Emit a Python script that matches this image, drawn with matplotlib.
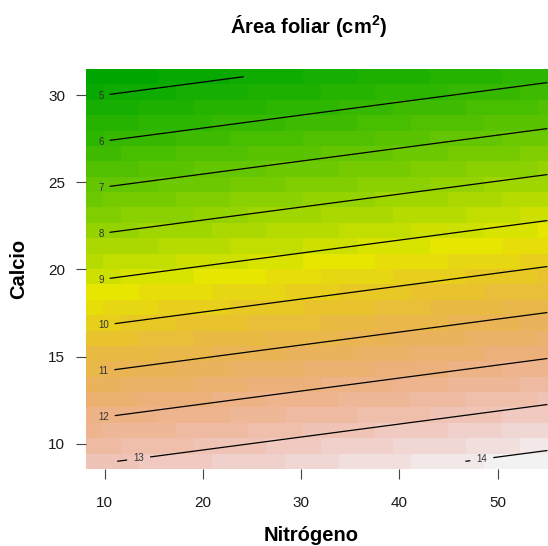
import colorsys

import numpy as np
import matplotlib
matplotlib.use("Agg")
import matplotlib.pyplot as plt
from matplotlib.colors import ListedColormap

# Fitted first-order response surface: area = b0 + bN * N + bCa * Ca
intercept = 16.09
coef_nitrogeno = 0.0282
coef_calcio = -0.379

# Extent of the evaluation grid (cell edges) and number of cells per side
n_edges_range = (8.0, 56.0)
ca_edges_range = (8.55, 31.5)
grid_cells = 26

contour_levels = [5, 6, 7, 8, 9, 10, 11, 12, 13, 14]
label_nitrogeno = [9.6, 9.6, 9.6, 9.6, 9.6, 9.85, 9.85, 9.85, 13.45, 48.4]

x_ticks = [10, 20, 30, 40, 50]
y_ticks = [10, 15, 20, 25, 30]

W, H = 548, 546
plt.rcParams["font.family"] = ["Liberation Sans", "DejaVu Sans"]
plt.rcParams["mathtext.fontset"] = "custom"
plt.rcParams["mathtext.rm"] = "Liberation Sans"
plt.rcParams["mathtext.bf"] = "Liberation Sans:bold"


def terrain_colors(n):
    """Same construction as R's terrain.colors(n)."""
    k = n // 2
    first = zip(np.linspace(4 / 12, 2 / 12, k),
                np.linspace(1, 1, k),
                np.linspace(0.65, 0.9, k))
    m = n - k + 1
    second = zip(np.linspace(2 / 12, 0, m)[1:],
                 np.linspace(1, 0, m)[1:],
                 np.linspace(0.9, 0.95, m)[1:])
    return [colorsys.hsv_to_rgb(h, s, v) for h, s, v in list(first) + list(second)]


def surface(n, ca):
    return intercept + coef_nitrogeno * n + coef_calcio * ca


n_edges = np.linspace(*n_edges_range, grid_cells + 1)
ca_edges = np.linspace(*ca_edges_range, grid_cells + 1)
n_centers = (n_edges[:-1] + n_edges[1:]) / 2
ca_centers = (ca_edges[:-1] + ca_edges[1:]) / 2
NN, CC = np.meshgrid(n_centers, ca_centers)
Z = surface(NN, CC)

fig = plt.figure(figsize=(W / 100, H / 100), dpi=100)
ax = fig.add_axes([85.5 / W, 1 - 469 / H, (W - 85.5) / W, 400 / H])

cmap = ListedColormap(terrain_colors(50))
ax.pcolormesh(n_edges, ca_edges, Z, cmap=cmap, vmin=Z.min(), vmax=Z.max(),
              shading="flat", antialiased=False, linewidth=0)

cs = ax.contour(n_centers, ca_centers, Z, levels=contour_levels,
                colors="black", linewidths=0.9)
positions = [(n, (lev - intercept - coef_nitrogeno * n) / coef_calcio)
             for lev, n in zip(contour_levels, label_nitrogeno)]
texts = ax.clabel(cs, fmt="%d", fontsize=7, manual=positions, inline=True,
                  inline_spacing=6, colors="#333333")
for t in texts:
    t.set_rotation(0)

ax.set_xlim(8.04, 55.14)
ax.set_ylim(8.55, 31.5)
ax.set_xticks(x_ticks)
ax.set_yticks(y_ticks)
for s in ax.spines.values():
    s.set_visible(False)
ax.tick_params(axis="both", length=7.2, width=0.8, color="#444444",
               labelsize=11, labelcolor="#1a1a1a")
ax.tick_params(axis="x", pad=12)
ax.tick_params(axis="y", pad=7.5)

fig.text(309 / W, 1 - 33 / H, r"Área foliar (cm$^{\mathbf{2}}$)",
         ha="center", va="baseline", fontsize=14.5, fontweight="bold")
fig.text(311 / W, 1 - 541 / H, "Nitrógeno",
         ha="center", va="baseline", fontsize=14.5, fontweight="bold")
fig.text(19 / W, 1 - 269 / H, "Calcio", rotation=90,
         ha="center", va="center", fontsize=14.5, fontweight="bold")

fig.savefig("out.png", dpi=100)
